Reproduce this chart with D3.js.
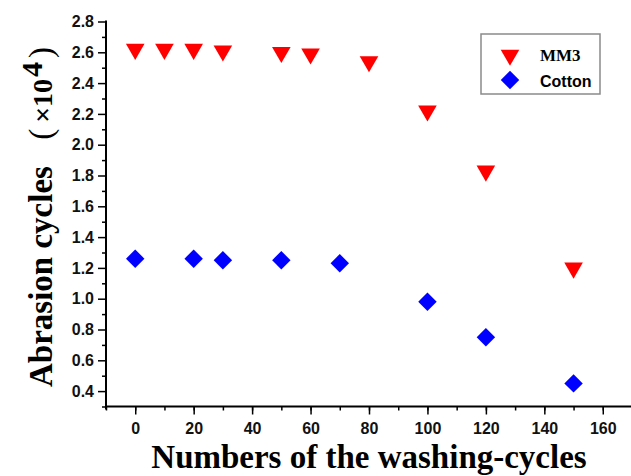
<!DOCTYPE html>
<html>
<head>
<meta charset="utf-8">
<script src="https://cdn.jsdelivr.net/npm/d3@7"></script>
<style>
  body { margin: 0; background: #fff; }
  svg { display: block; }
</style>
</head>
<body>
<div id="chart"></div>
<script>
// washing cycles and abrasion cycles (x10^4)
const mm3Cycles = [0, 10, 20, 30, 50, 60, 80, 100, 120, 150];
const mm3Values = [2.62, 2.62, 2.62, 2.61, 2.60, 2.59, 2.54, 2.22, 1.83, 1.20];
const cottonCycles = [0, 20, 30, 50, 70, 100, 120, 150];
const cottonValues = [1.26, 1.26, 1.25, 1.25, 1.23, 0.98, 0.75, 0.45];
const xTicks = [0, 20, 40, 60, 80, 100, 120, 140, 160];
const yTicks = [0.4, 0.6, 0.8, 1.0, 1.2, 1.4, 1.6, 1.8, 2.0, 2.2, 2.4, 2.6, 2.8];
const seriesNames = ['MM3', 'Cotton'];

const W = 631, H = 476;
const svg = d3.select('#chart').append('svg')
    .attr('width', W).attr('height', H);

const x = d3.scaleLinear().domain([-10, 170]).range([106, 632]);
const y = d3.scaleLinear().domain([0.3, 2.8]).range([406.5, 21.5]);

const tickFont = 'Arial, "Liberation Sans", sans-serif';
const serif = '"Times New Roman", "Liberation Serif", serif';

// x axis
const xAxis = svg.append('g').attr('transform', 'translate(0,' + y(0.3) + ')');
xAxis.append('g')
    .call(d3.axisBottom(x).tickValues(d3.range(-10, 171, 10)).tickSize(4).tickFormat(''))
    .call(g => g.select('.domain').remove())
    .selectAll('line').attr('stroke-width', 1.5);
xAxis.append('g')
    .call(d3.axisBottom(x).tickValues(xTicks).tickSize(8).tickPadding(8).tickFormat(d3.format('d')))
    .call(g => g.select('.domain').remove())
    .call(g => g.selectAll('line').attr('stroke-width', 1.5))
    .call(g => g.selectAll('text')
        .attr('font-family', tickFont).attr('font-weight', 'bold')
        .attr('font-size', 16).attr('fill', '#111'));
xAxis.append('line')
    .attr('x1', x(-10)).attr('x2', x(170)).attr('stroke', '#000').attr('stroke-width', 2);

// y axis
const yAxis = svg.append('g').attr('transform', 'translate(' + x(-10) + ',0)');
yAxis.append('g')
    .call(d3.axisLeft(y).tickValues(d3.range(3, 28, 2).map(d => d / 10)).tickSize(4).tickFormat(''))
    .call(g => g.select('.domain').remove())
    .selectAll('line').attr('stroke-width', 1.5);
yAxis.append('g')
    .call(d3.axisLeft(y).tickValues(yTicks).tickSize(8).tickPadding(4).tickFormat(d3.format('.1f')))
    .call(g => g.select('.domain').remove())
    .call(g => g.selectAll('line').attr('stroke-width', 1.5))
    .call(g => g.selectAll('text')
        .attr('font-family', tickFont).attr('font-weight', 'bold')
        .attr('font-size', 16).attr('fill', '#111'));
yAxis.append('line')
    .attr('y1', y(0.3) + 3).attr('y2', y(2.8) - 1).attr('stroke', '#000').attr('stroke-width', 2);

// markers
const tri = d3.symbol().type(d3.symbolTriangle).size(150);
const dia = d3.symbol().type(d3.symbolSquare).size(170);

svg.append('g').selectAll('path')
    .data(mm3Cycles.map((c, i) => [c, mm3Values[i]]))
    .join('path')
    .attr('d', tri)
    .attr('fill', '#ff0000')
    .attr('transform', d => 'translate(' + x(d[0]) + ',' + y(d[1]) + ') rotate(180)');

svg.append('g').selectAll('path')
    .data(cottonCycles.map((c, i) => [c, cottonValues[i]]))
    .join('path')
    .attr('d', dia)
    .attr('fill', '#0000ff')
    .attr('transform', d => 'translate(' + x(d[0]) + ',' + y(d[1]) + ') rotate(45)');

// legend
const legend = svg.append('g');
legend.append('rect')
    .attr('x', 481).attr('y', 34).attr('width', 119).attr('height', 60)
    .attr('fill', '#fff').attr('stroke', '#8a8a8a').attr('stroke-width', 1.5);
legend.append('path').attr('d', tri).attr('fill', '#ff0000')
    .attr('transform', 'translate(510,55) rotate(180)');
legend.append('path').attr('d', dia).attr('fill', '#0000ff')
    .attr('transform', 'translate(510,80) rotate(45)');
legend.append('text').attr('x', 540).attr('y', 61)
    .attr('font-family', serif).attr('font-weight', 'bold').attr('font-size', 17)
    .text(seriesNames[0]);
legend.append('text').attr('x', 540).attr('y', 87)
    .attr('font-family', tickFont).attr('font-weight', 'bold').attr('font-size', 16)
    .text(seriesNames[1]);

// axis titles
svg.append('text')
    .attr('x', 369).attr('y', 468)
    .attr('text-anchor', 'middle')
    .attr('font-family', serif).attr('font-weight', 'bold').attr('font-size', 33)
    .text('Numbers of the washing-cycles');

const yt = svg.append('text')
    .attr('transform', 'translate(52,387) rotate(-90)')
    .attr('font-family', serif).attr('font-weight', 'bold').attr('font-size', 33);
yt.append('tspan').text('Abrasion cycles ');
yt.append('tspan').attr('dx', 18).attr('font-weight', 'normal').text('(');
yt.append('tspan').attr('dx', 6).attr('font-size', 28).text('×10');
yt.append('tspan').attr('dy', -10).attr('dx', 2).attr('font-size', 30).text('4');
yt.append('tspan').attr('dy', 10).attr('dx', 4).attr('font-weight', 'normal').text(')');
</script>
</body>
</html>
